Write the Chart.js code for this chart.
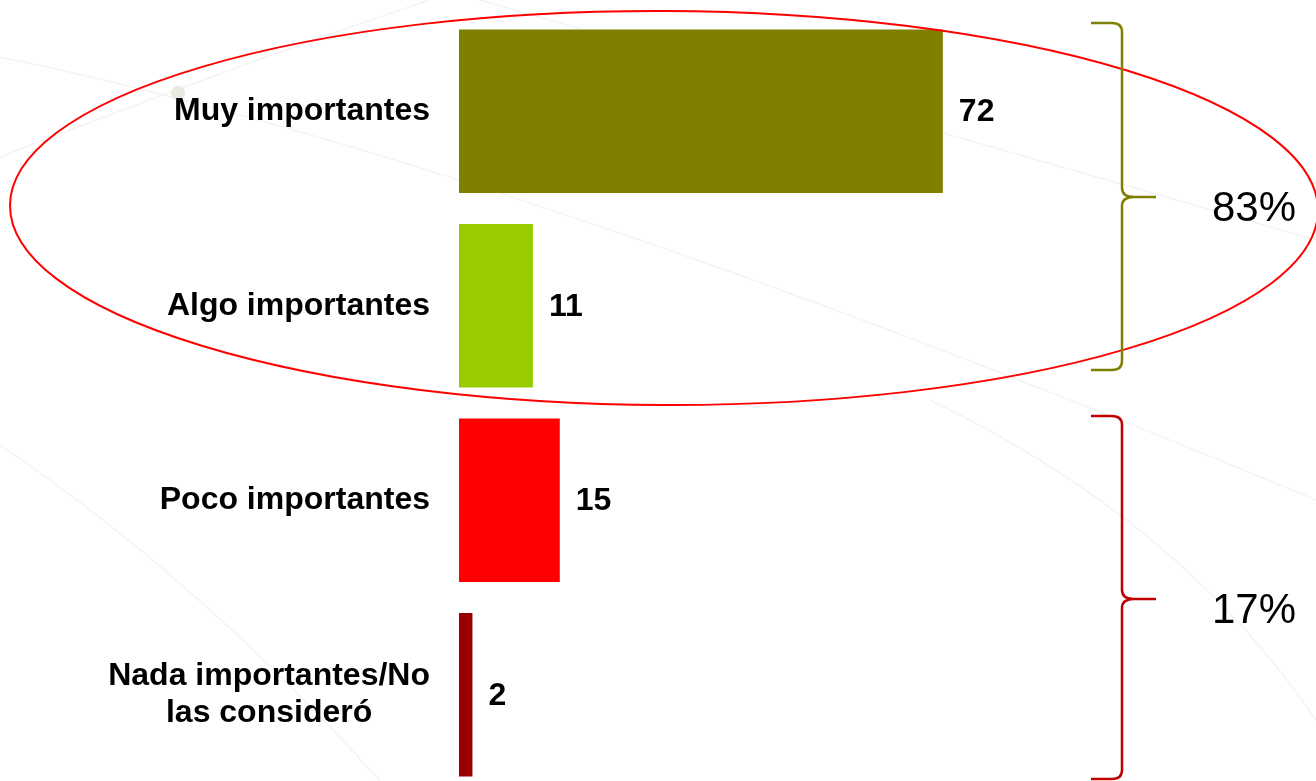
<!DOCTYPE html>
<html>
<head>
<meta charset="utf-8">
<script src="https://cdn.jsdelivr.net/npm/chart.js@4"></script>
<style>
  html, body { margin: 0; padding: 0; background: #fff; overflow: hidden; width: 1316px; height: 781px; }
  #wrap { width: 1316px; height: 795px; position: relative; }
</style>
</head>
<body>
<div id="wrap"><canvas id="chart"></canvas></div>
<script>
// data
const categories = ['Muy importantes', 'Algo importantes', 'Poco importantes', ['Nada importantes/No', 'las consideró']]
const values = [72, 11, 15, 2]
const barColors = ['#808000', '#99cc00', '#ff0000', '#990000']
const groupLabels = ['83%', '17%']
const groupColors = ['#808000', '#c00000']

const FONT = '"Liberation Sans", Arial, Helvetica, sans-serif'

// faint decorative background strokes + the little dot
const backdrop = {
  id: 'backdrop',
  beforeDraw(chart) {
    const ctx = chart.ctx
    ctx.save()
    ctx.strokeStyle = '#f4f4f4'
    ctx.lineWidth = 1.5
    ctx.beginPath()
    ctx.moveTo(0, 57); ctx.quadraticCurveTo(500, 160, 1316, 500)
    ctx.moveTo(0, 157); ctx.quadraticCurveTo(250, 60, 430, 0)
    ctx.moveTo(480, 0); ctx.quadraticCurveTo(900, 120, 1316, 240)
    ctx.moveTo(0, 445); ctx.quadraticCurveTo(200, 580, 380, 781)
    ctx.moveTo(930, 400); ctx.quadraticCurveTo(1180, 520, 1316, 720)
    ctx.stroke()
    ctx.fillStyle = '#e6eadf'
    ctx.beginPath()
    ctx.arc(178, 93, 7, 0, Math.PI * 2)
    ctx.fill()
    ctx.restore()
  }
}

// category labels: right aligned block, multi-line lines centred on each other
const catLabels = {
  id: 'catLabels',
  afterDatasetsDraw(chart) {
    const ctx = chart.ctx
    const y = chart.scales.y
    const right = 430
    const lh = 37
    ctx.save()
    ctx.fillStyle = '#000'
    ctx.font = 'bold 32px ' + FONT
    ctx.textBaseline = 'middle'
    categories.forEach((c, i) => {
      const lines = Array.isArray(c) ? c : [c]
      const widest = Math.max(...lines.map(l => ctx.measureText(l).width))
      const cx = right - widest / 2
      const yc = y.getPixelForValue(i)
      ctx.textAlign = 'center'
      lines.forEach((l, k) => {
        ctx.fillText(l, cx, yc + (k - (lines.length - 1) / 2) * lh)
      })
    })
    ctx.restore()
  }
}

// value labels next to bar ends
const valueLabels = {
  id: 'valueLabels',
  afterDatasetsDraw(chart) {
    const ctx = chart.ctx
    const meta = chart.getDatasetMeta(0)
    ctx.save()
    ctx.fillStyle = '#000'
    ctx.font = 'bold 32px ' + FONT
    ctx.textAlign = 'left'
    ctx.textBaseline = 'middle'
    meta.data.forEach((bar, i) => {
      ctx.fillText(String(values[i]), bar.x + 16, bar.y + 1)
    })
    ctx.restore()
  }
}

// ellipse round the first two bars, braces and group percentages
const annotations = {
  id: 'annotations',
  afterDraw(chart) {
    const ctx = chart.ctx
    ctx.save()
    ctx.strokeStyle = '#ff0000'
    ctx.lineWidth = 2
    ctx.beginPath()
    ctx.ellipse(664, 208, 654, 197, 0.004, 0, Math.PI * 2)
    ctx.stroke()

    const braces = [[23, 197, 370], [416, 599, 779]]
    const tip = 1091, spine = 1122, point = 1156
    braces.forEach(([top, mid, bot], i) => {
      ctx.strokeStyle = groupColors[i]
      ctx.lineWidth = 2.5
      ctx.beginPath()
      ctx.moveTo(tip, top)
      ctx.lineTo(spine - 10, top)
      ctx.quadraticCurveTo(spine, top, spine, top + 9)
      ctx.lineTo(spine, mid - 9)
      ctx.quadraticCurveTo(spine, mid, spine + 12, mid)
      ctx.lineTo(point, mid)
      ctx.moveTo(spine + 12, mid)
      ctx.quadraticCurveTo(spine, mid, spine, mid + 9)
      ctx.lineTo(spine, bot - 9)
      ctx.quadraticCurveTo(spine, bot, spine - 10, bot)
      ctx.lineTo(tip, bot)
      ctx.stroke()

      ctx.fillStyle = '#000'
      ctx.font = '42px ' + FONT
      ctx.textAlign = 'center'
      ctx.textBaseline = 'middle'
      ctx.fillText(groupLabels[i], 1254, mid + 12)
    })
    ctx.restore()
  }
}

new Chart(document.getElementById('chart'), {
  type: 'bar',
  data: {
    labels: categories,
    datasets: [{
      data: values,
      backgroundColor: barColors,
      borderWidth: 0,
      barPercentage: 0.84,
      categoryPercentage: 1
    }]
  },
  options: {
    indexAxis: 'y',
    responsive: true,
    maintainAspectRatio: false,
    animation: false,
    layout: { padding: { left: 0, right: 185, top: 14, bottom: 3 } },
    plugins: {
      legend: { display: false },
      tooltip: { enabled: false }
    },
    scales: {
      x: {
        display: false,
        min: 0,
        max: 100
      },
      y: {
        grid: { display: false },
        border: { display: false },
        ticks: { display: false },
        afterFit(scale) { scale.width = 459 }
      }
    }
  },
  plugins: [backdrop, catLabels, valueLabels, annotations]
})
</script>
</body>
</html>
